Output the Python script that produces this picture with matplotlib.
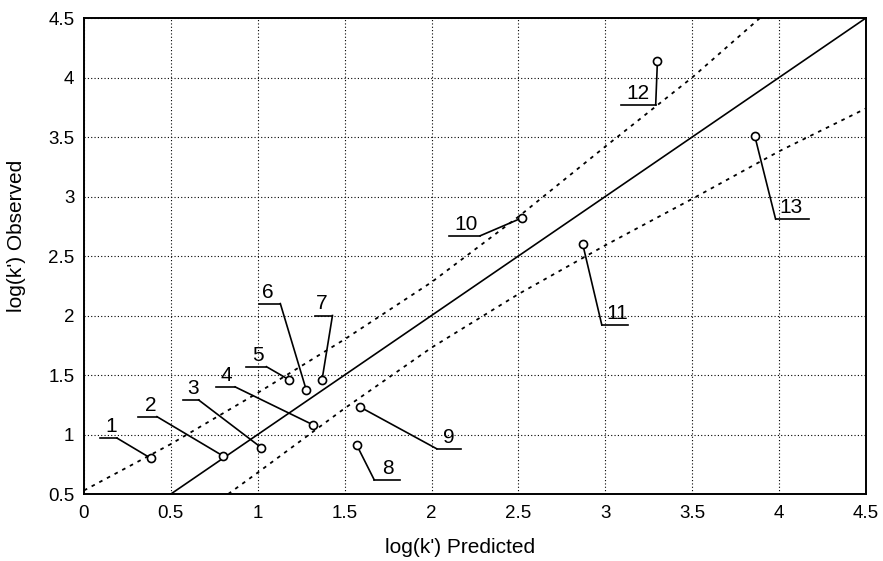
import numpy as np
import matplotlib
matplotlib.use('Agg')
from matplotlib import pyplot as plt

plt.rcParams['font.family'] = ['Liberation Sans', 'DejaVu Sans']

# compound numbers and their log(k') values
labels = ['1', '2', '3', '4', '5', '6', '7', '8', '9', '10', '11', '12', '13']
predicted = [0.385, 0.80, 1.02, 1.32, 1.18, 1.28, 1.37, 1.57, 1.59, 2.52, 2.87, 3.30, 3.86]
observed = [0.80, 0.82, 0.89, 1.08, 1.46, 1.37, 1.46, 0.91, 1.23, 2.82, 2.60, 4.14, 3.51]

# label placement: underline x-range, underline y, text centre x, which end joins the point
ul_x0 = [0.09, 0.31, 0.57, 0.76, 0.93, 1.01, 1.33, 1.67, 2.03, 2.10, 2.98, 3.09, 3.98]
ul_x1 = [0.19, 0.42, 0.66, 0.87, 1.05, 1.13, 1.43, 1.82, 2.17, 2.28, 3.13, 3.29, 4.17]
ul_y = [0.97, 1.15, 1.29, 1.40, 1.57, 2.10, 2.00, 0.62, 0.88, 2.67, 1.92, 3.77, 2.81]
txt_x = [0.155, 0.385, 0.63, 0.82, 1.00, 1.06, 1.37, 1.75, 2.10, 2.20, 3.07, 3.19, 4.07]
join = ['r', 'r', 'r', 'r', 'r', 'r', 'r', 'l', 'l', 'r', 'l', 'r', 'l']

# y = x line and the dashed band
ideal_x = [0.5, 4.5]
upper_x = [0.0, 0.5, 1.0, 1.5, 2.0, 2.5, 3.0, 3.5, 3.89]
upper_y = [0.53, 0.92, 1.35, 1.80, 2.28, 2.83, 3.42, 4.00, 4.50]
lower_x = [0.83, 1.0, 1.5, 2.0, 2.5, 3.0, 3.5, 4.0, 4.5]
lower_y = [0.50, 0.68, 1.22, 1.73, 2.18, 2.59, 2.98, 3.38, 3.74]

fig = plt.figure(figsize=(8.83, 5.61), dpi=100)
ax = fig.add_axes([0.0951, 0.1194, 0.8856, 0.8485])

ax.plot(ideal_x, ideal_x, color='black', lw=1.2, zorder=3)
ax.plot(upper_x, upper_y, color='black', lw=1.3, dashes=(2.0, 2.8), zorder=3)
ax.plot(lower_x, lower_y, color='black', lw=1.3, dashes=(2.0, 2.8), zorder=3)

for i in range(len(labels)):
    jx = ul_x1[i] if join[i] == 'r' else ul_x0[i]
    ax.plot([ul_x0[i], ul_x1[i]], [ul_y[i], ul_y[i]], color='black', lw=1.2, zorder=4)
    ax.plot([jx, predicted[i]], [ul_y[i], observed[i]], color='black', lw=1.2, zorder=4)
    ax.annotate(labels[i], (txt_x[i], ul_y[i]), xytext=(0, 1.5), textcoords='offset points',
                ha='center', va='bottom', fontsize=15)

ax.plot(predicted, observed, 'o', ms=5.8, mfc='white', mec='black', mew=1.2, zorder=5)

ax.set_xlim(0, 4.5)
ax.set_ylim(0.5, 4.5)
ax.set_xticks(np.arange(0, 4.51, 0.5))
ax.set_yticks(np.arange(0.5, 4.51, 0.5))
ax.set_xticklabels(['0', '0.5', '1', '1.5', '2', '2.5', '3', '3.5', '4', '4.5'])
ax.set_yticklabels(['0.5', '1', '1.5', '2', '2.5', '3', '3.5', '4', '4.5'])
ax.tick_params(length=0, labelsize=13.5)
ax.tick_params(axis='x', pad=8)
ax.tick_params(axis='y', pad=7)
ax.grid(True, color='black', lw=0.8, linestyle=(0, (1, 2)))
for s in ax.spines.values():
    s.set_linewidth(1.4)

ax.set_xlabel("log(k') Predicted", fontsize=15)
ax.xaxis.set_label_coords(0.481, -0.092)
ax.text(-0.0857, 0.542, "log(k') Observed", rotation=90, ha='center', va='center',
        fontsize=15, transform=ax.transAxes)

fig.savefig('out.png', dpi=100)
